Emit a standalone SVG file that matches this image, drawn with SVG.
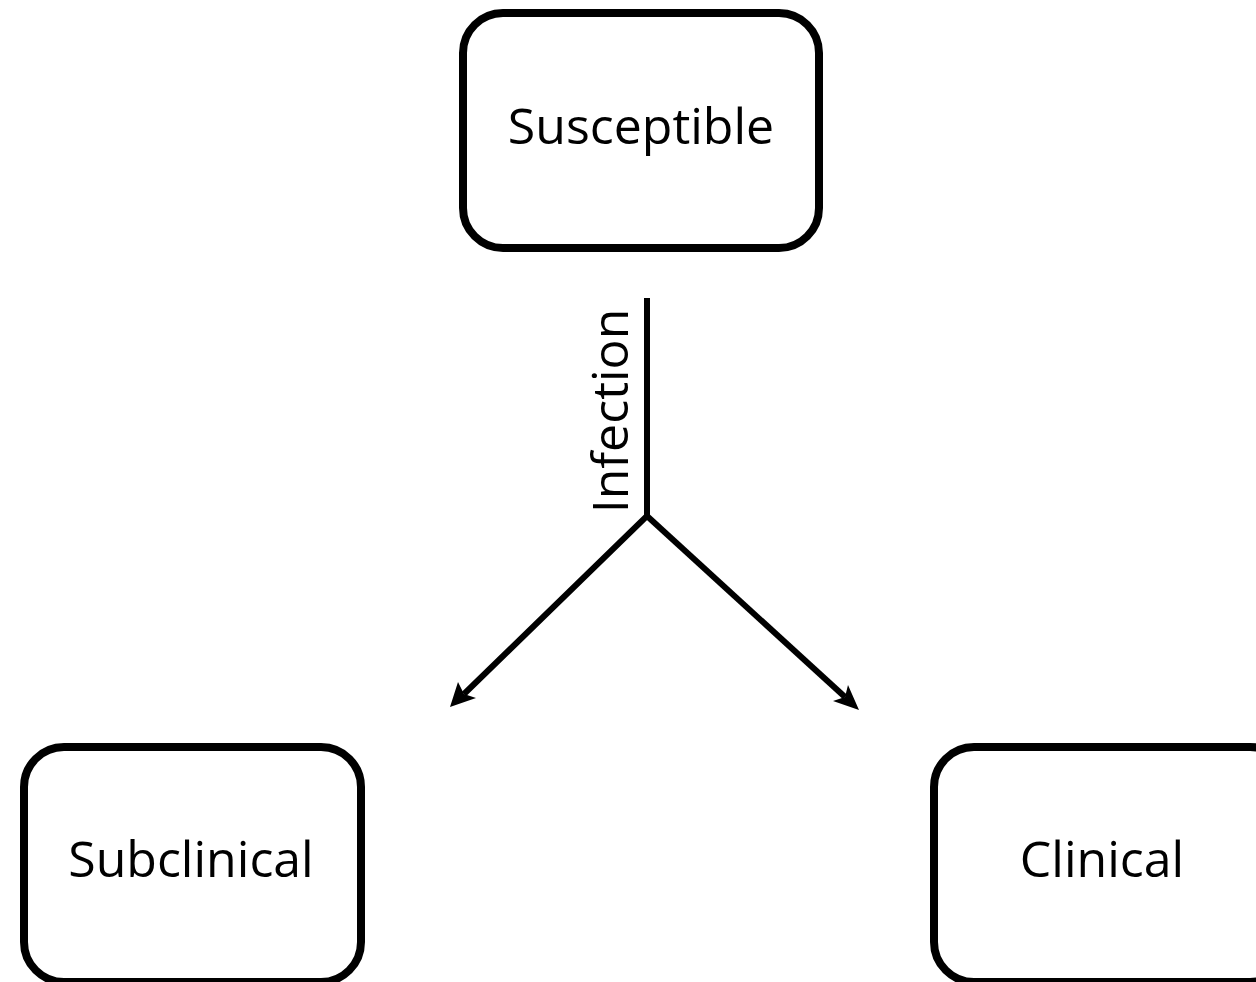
<svg xmlns="http://www.w3.org/2000/svg" width="1256" height="982" viewBox="0 0 1256 982">
<style>
.box{fill:#fff;stroke:#000;stroke-width:8}
.lbl{font-family:"Open Sans","Noto Sans",sans-serif;font-size:50px;fill:#000;text-anchor:middle}
.conn{stroke:#000;stroke-width:6;fill:none;stroke-linejoin:miter}
.head{fill:#000;stroke:none}
</style>
<rect width="1256" height="982" fill="#fff"/>
<g id="susceptible">
<rect class="box" x="463" y="13" width="356" height="235" rx="40"/>
<text class="lbl" x="641" y="144">Susceptible</text>
</g>
<g id="subclinical">
<rect class="box" x="24" y="747" width="337" height="235" rx="40"/>
<text class="lbl" x="191" y="877">Subclinical</text>
</g>
<g id="clinical">
<rect class="box" x="934" y="747" width="356" height="235" rx="40"/>
<text class="lbl" x="1102" y="877">Clinical</text>
</g>
<g id="connectors">
<path class="conn" d="M647,298 V516 L464,694"/>
<path class="conn" d="M647,516 L845,697"/>
<polygon class="head" points="450,707 458,682 464,694 476,698"/>
<polygon class="head" points="859,710 833,701 845,697 848,685"/>
<text class="lbl" transform="translate(628,411) rotate(-90)">Infection</text>
</g>
</svg>
